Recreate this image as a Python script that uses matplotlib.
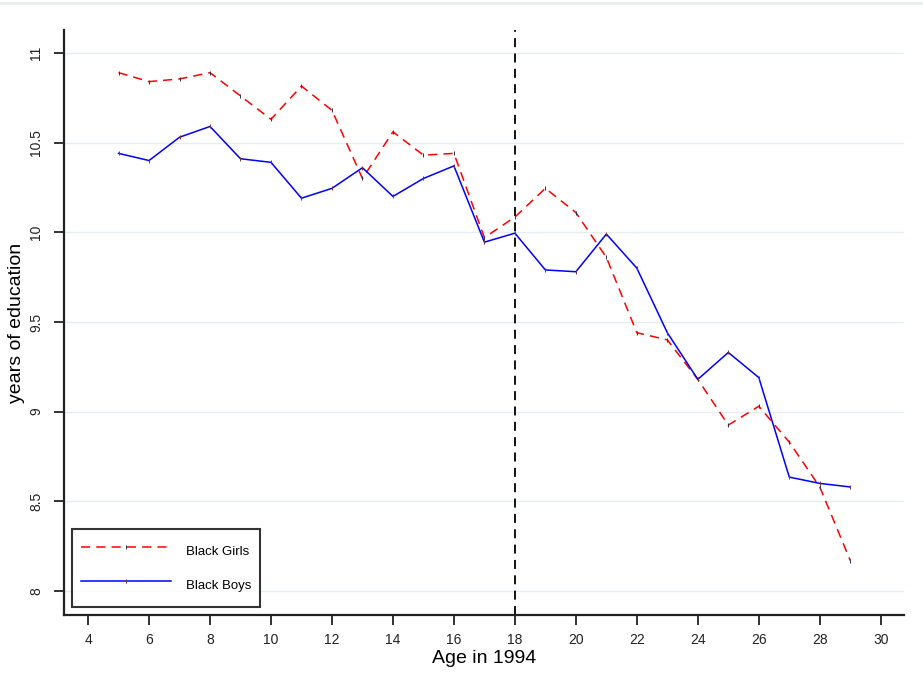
import matplotlib
matplotlib.use("Agg")
import matplotlib.pyplot as plt
from matplotlib.lines import Line2D

plt.rcParams['font.family'] = ['Liberation Sans', 'DejaVu Sans']

# mean years of education by age in 1994
ages = list(range(5, 30))
girls = [10.89, 10.84, 10.855, 10.89, 10.76, 10.63, 10.815, 10.68, 10.30, 10.56,
         10.43, 10.44, 9.97, 10.085, 10.245, 10.11, 9.86, 9.44, 9.40, 9.18,
         8.925, 9.03, 8.83, 8.58, 8.17]
boys = [10.44, 10.40, 10.53, 10.59, 10.41, 10.39, 10.19, 10.245, 10.36, 10.20,
        10.30, 10.37, 9.945, 9.995, 9.79, 9.78, 9.99, 9.80, 9.44, 9.18,
        9.33, 9.19, 8.635, 8.60, 8.58]
cutoff_age = 18
x_ticks = list(range(4, 31, 2))
y_ticks = [8, 8.5, 9, 9.5, 10, 10.5, 11]
y_tick_labels = ['8', '8.5', '9', '9.5', '10', '10.5', '11']

fig = plt.figure(figsize=(9.23, 6.97), dpi=100)
ax = fig.add_axes([0.0693, 0.1176, 0.9097, 0.8394])

# faint rule along the top of the figure
fig.add_artist(Line2D([0, 1], [0.996, 0.996], transform=fig.transFigure,
                      color='#e8eef1', linewidth=2))

for yv in y_ticks:
    ax.axhline(yv, color='#e6eef1', linewidth=1.0, zorder=0)

ax.plot(ages, girls, color='red', linestyle=(0, (6, 4)), linewidth=1.1,
        marker='|', markersize=3, markeredgecolor='#334', markeredgewidth=0.7,
        label='Black Girls', zorder=3)
ax.plot(ages, boys, color='blue', linestyle='-', linewidth=1.1,
        marker='|', markersize=3, markeredgecolor='#733', markeredgewidth=0.7,
        label='Black Boys', zorder=3)

ax.axvline(cutoff_age, color='black', linestyle=(0, (5, 3.5)), linewidth=1.3, zorder=2)

ax.set_xlim(3.21, 30.75)
ax.set_ylim(7.866, 11.128)
ax.set_xticks(x_ticks)
ax.set_yticks(y_ticks)
ax.set_yticklabels(y_tick_labels, rotation=90, va='center')
ax.tick_params(axis='both', direction='out', length=7, width=1.3, labelsize=10,
               color='#222222', labelcolor='#222222')
ax.tick_params(axis='y', pad=8)
ax.tick_params(axis='x', pad=6)

for side in ['top', 'right']:
    ax.spines[side].set_visible(False)
for side in ['left', 'bottom']:
    ax.spines[side].set_linewidth(1.6)
    ax.spines[side].set_color('#222222')

ax.set_xlabel('Age in 1994', fontsize=14, labelpad=2)
ax.set_ylabel('years of education', fontsize=14, labelpad=3)

leg = ax.legend(loc='lower left', bbox_to_anchor=(0.0, 0.0), fontsize=9.5,
                frameon=True, fancybox=False, edgecolor='black',
                handlelength=6.8, handleheight=2.6, handletextpad=1.14,
                borderpad=0.68, labelspacing=0.64, borderaxespad=0.62)
leg.get_frame().set_linewidth(1.5)

fig.savefig('out.png', dpi=100)
